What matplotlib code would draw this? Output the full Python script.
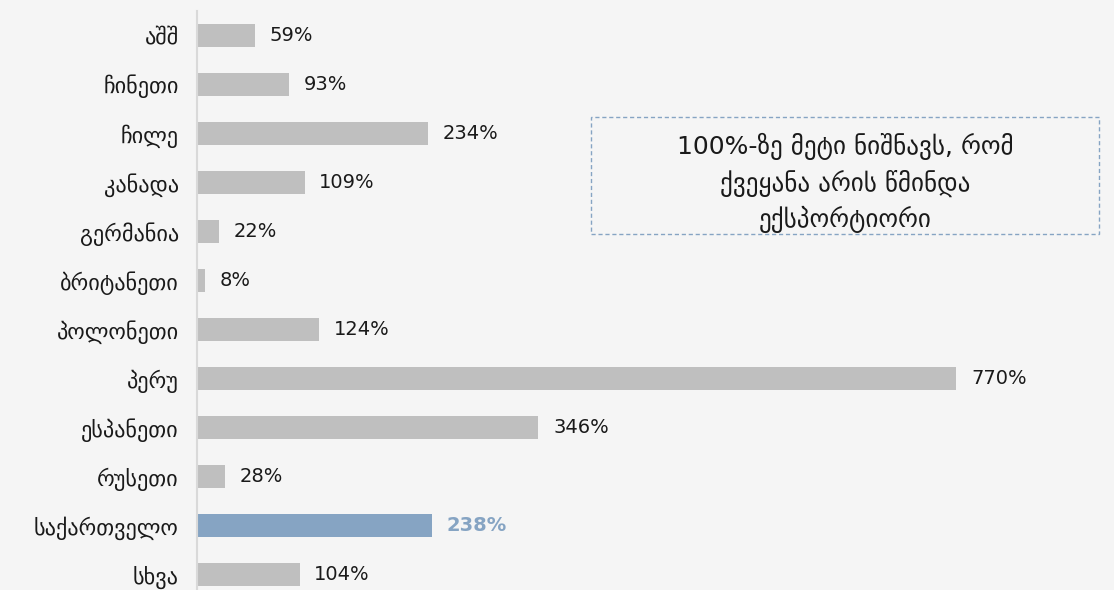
import matplotlib.pyplot as plt
from matplotlib.patches import Rectangle

# data, top to bottom
countries = ["აშშ", "ჩინეთი", "ჩილე", "კანადა", "გერმანია", "ბრიტანეთი",
             "პოლონეთი", "პერუ", "ესპანეთი", "რუსეთი", "საქართველო", "სხვა"]
values = [59, 93, 234, 109, 22, 8, 124, 770, 346, 28, 238, 104]
highlight = "საქართველო"
note = "100%-ზე მეტი ნიშნავს, რომ\nქვეყანა არის წმინდა\nექსპორტიორი"

bg = "#f5f5f5"
gray = "#bfbfbf"
blue = "#86a4c3"
txt = "#1a1a1a"

plt.rcParams["font.family"] = "DejaVu Sans"

fig = plt.figure(figsize=(11.14, 5.9), dpi=100, facecolor=bg)
ax = fig.add_axes([197 / 1114, -9.5 / 590, 789 / 1114, 589 / 590])
ax.set_facecolor(bg)

colors = [blue if c == highlight else gray for c in countries]
ypos = list(range(len(countries)))
ax.barh(ypos, values, height=0.47, color=colors)

for y, v, c in zip(ypos, values, countries):
    if c == highlight:
        ax.text(v + 15, y, f"{v}%", va="center", ha="left", fontsize=14,
                color=blue, fontweight="bold")
    else:
        ax.text(v + 15, y, f"{v}%", va="center", ha="left", fontsize=14,
                color=txt)

ax.set_xlim(0, 800)
ax.set_ylim(len(countries) - 0.5, -0.5)
ax.set_yticks(ypos)
ax.set_yticklabels(countries, fontsize=16, color=txt)
ax.tick_params(axis="y", length=0, pad=13)
ax.set_xticks([])
for s in ["top", "right", "bottom"]:
    ax.spines[s].set_visible(False)
ax.spines["left"].set_color("#d9d9d9")
ax.spines["left"].set_linewidth(1.5)

# note box
x0, y0, x1, y1 = 591 / 1114, 1 - 234 / 590, 1099 / 1114, 1 - 117 / 590
fig.patches.append(Rectangle((x0, y0), x1 - x0, y1 - y0, transform=fig.transFigure,
                             fill=False, edgecolor=blue, linestyle=(0, (3, 2)),
                             linewidth=1))
fig.text((x0 + x1) / 2, 1 - 183 / 590, note, ha="center", va="center",
         fontsize=18, color=txt, linespacing=1.45)

fig.savefig("out.png", dpi=100, facecolor=bg)
